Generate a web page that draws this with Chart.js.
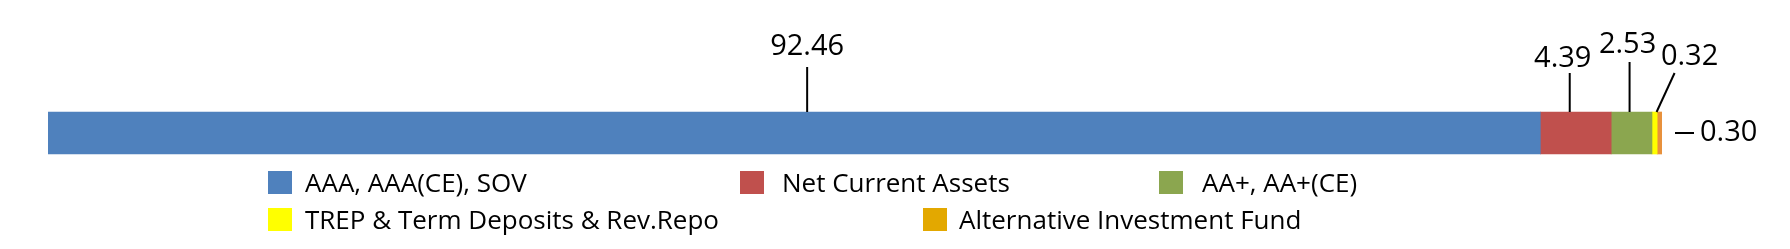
<!DOCTYPE html>
<html>
<head>
<meta charset="utf-8">
<script src="https://cdn.jsdelivr.net/npm/chart.js@4"></script>
<style>
  html, body { margin: 0; padding: 0; background: #fff; }
  #wrap { position: relative; width: 1790px; height: 249px; }
  #legend { position: absolute; left: 0; top: 0; width: 1790px; height: 249px; pointer-events: none; }
  .item { position: absolute; display: flex; align-items: center; font-family: "Open Sans", sans-serif; font-size: 26px; color: #000; white-space: nowrap; }
  .box { width: 24px; height: 23px; display: inline-block; }
</style>
</head>
<body>
<div id="wrap">
  <canvas id="chart" width="1790" height="249"></canvas>
  <div id="legend"></div>
</div>
<script>
const categories = ["Portfolio"];
const seriesNames = [
  "AAA, AAA(CE), SOV",
  "Net Current Assets",
  "AA+, AA+(CE)",
  "TREP & Term Deposits & Rev.Repo",
  "Alternative Investment Fund",
];
const seriesValues = [92.46, 4.39, 2.53, 0.32, 0.30];
const barColors = ["#4F81BD", "#C0504D", "#8BA64F", "#FFFF00", "#E8913C"];
const legendColors = ["#4F81BD", "#C0504D", "#8BA64F", "#FFFF00", "#E3A800"];

// legend slots: [left, centerY, gap box->text]
const legendSlots = [
  [268, 182, 13],
  [740, 182, 18],
  [1159, 182, 19],
  [268, 219, 13],
  [923, 219, 12],
];

// leader style per segment: up = vertical line, slant = diagonal, side = horizontal to the right
const leaderStyles = [
  { kind: "up", len: 45, gap: 20, dx: 13, tx: 0 },
  { kind: "up", len: 39, gap: 14, dx: -6, tx: -7 },
  { kind: "up", len: 50, gap: 17, dx: -2, tx: -2 },
  { kind: "slant", dx: 18, dy: 39 },
  { kind: "side", len: 19 },
];

const leaderLabels = {
  id: "leaderLabels",
  afterDatasetsDraw(chart) {
    const ctx = chart.ctx;
    ctx.save();
    ctx.strokeStyle = "#000";
    ctx.fillStyle = "#000";
    ctx.lineWidth = 2;
    ctx.font = '29px "Open Sans", sans-serif';
    chart.data.datasets.forEach((ds, i) => {
      const el = chart.getDatasetMeta(i).data[0];
      const style = leaderStyles[i];
      const txt = ds.data[0].toFixed(2);
      const cx = (el.x + el.base) / 2;
      const top = el.y - el.height / 2;
      ctx.beginPath();
      if (style.kind === "up") {
        const lx = cx + style.dx;
        ctx.moveTo(lx, top);
        ctx.lineTo(lx, top - style.len);
        ctx.stroke();
        ctx.textAlign = "center";
        ctx.textBaseline = "middle";
        ctx.fillText(txt, lx + style.tx, top - style.len - style.gap);
      } else if (style.kind === "slant") {
        ctx.moveTo(cx + 2, top);
        ctx.lineTo(cx + 2 + style.dx, top - style.dy);
        ctx.stroke();
        ctx.textAlign = "center";
        ctx.textBaseline = "middle";
        ctx.fillText(txt, cx + 2 + style.dx + 15, top - style.dy - 16);
      } else {
        const x0 = el.x + 13;
        ctx.moveTo(x0, el.y);
        ctx.lineTo(x0 + style.len, el.y);
        ctx.stroke();
        ctx.textAlign = "left";
        ctx.textBaseline = "middle";
        ctx.fillText(txt, x0 + style.len + 6, el.y);
      }
    });
    ctx.restore();
  },
};

const chart = new Chart(document.getElementById("chart"), {
  type: "bar",
  data: {
    labels: categories,
    datasets: seriesNames.map((name, i) => ({
      label: name,
      data: [seriesValues[i]],
      backgroundColor: barColors[i],
      borderWidth: 0,
      barThickness: 42,
    })),
  },
  options: {
    indexAxis: "y",
    responsive: false,
    animation: false,
    layout: {
      padding: { left: 48, right: 128, top: 100, bottom: 83 },
    },
    plugins: {
      legend: { display: false },
      tooltip: { enabled: false },
    },
    scales: {
      x: { stacked: true, display: false, min: 0, max: 100 },
      y: { stacked: true, display: false },
    },
  },
  plugins: [leaderLabels],
});

// html legend built from the chart's datasets
const legendEl = document.getElementById("legend");
chart.data.datasets.forEach((ds, i) => {
  const [left, cy, gap] = legendSlots[i];
  const item = document.createElement("div");
  item.className = "item";
  item.style.left = left + "px";
  item.style.top = (cy - 18) + "px";
  item.style.height = "36px";
  const box = document.createElement("span");
  box.className = "box";
  box.style.background = legendColors[i];
  box.style.marginRight = gap + "px";
  const label = document.createElement("span");
  label.textContent = ds.label;
  item.appendChild(box);
  item.appendChild(label);
  legendEl.appendChild(item);
});
</script>
</body>
</html>
